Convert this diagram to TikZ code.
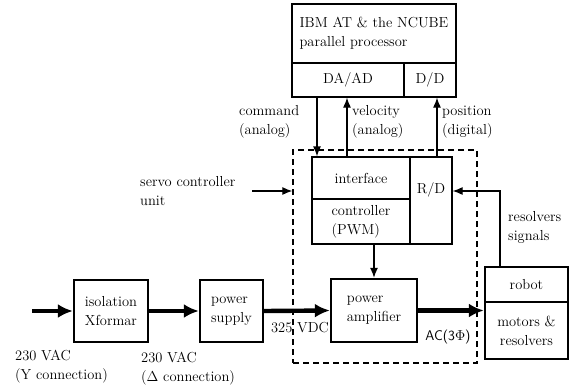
\documentclass[tikz,border=0pt]{standalone}
\usepackage{tikz}
\usetikzlibrary{arrows.meta}

\begin{document}
\begin{tikzpicture}[
    x=1pt, y=-1pt,
    >={Latex[length=10pt,width=8pt]},
    every node/.style={font=\fontsize{14.5}{19}\selectfont, inner sep=0pt},
    cel/.style 2 args={draw, line width=1.2pt, minimum width=#1, minimum height=#2},
    blok/.style 2 args={draw, line width=2.4pt, minimum width=#1, minimum height=#2},
    conn/.style={line width=1.2pt},
    pwr/.style={line width=4.4pt, -{Latex[length=15pt,width=14pt]}},
    dash box/.style={draw, line width=1.3pt, dash pattern=on 6pt off 4pt}
    ]
    
    \useasboundingbox (0,0) rectangle (571,389);
    
    % host computer
    \node[cel={164pt}{59pt}, align=left] (host) at (374,33.5)
    {IBM AT \& the NCUBE\\parallel processor};
    \node[cel={112pt}{34pt}] (dad) at (348,80) {DA/AD};
    \node[cel={52pt}{34pt}] (dd) at (430,80) {D/D};
    \node[blok={164pt}{93pt}] (ibm) at (374,50.5) {};
    
    % servo controller unit
    \node[dash box, minimum width=184pt, minimum height=213pt] (scu) at (385,256.5) {};
    \node[cel={98pt}{42pt}] (intf) at (361,178) {interface};
    \node[cel={98pt}{45pt}, align=left] (ctrl) at (361,221.5)
    {controller\\(PWM)};
    \node[cel={42pt}{87pt}] (rd) at (431,200.5) {};
    \node (rdlab) at (431,190) {R/D};
    \node[blok={140pt}{87pt}] (iface) at (382,200.5) {};
    
    \node[blok={86pt}{63pt}, align=left] (amp) at (374,310.5)
    {power\\amplifier};
    
    % power chain
    \node[blok={74pt}{62pt}, align=left] (iso) at (111,311)
    {isolation\\Xformar};
    \node[blok={63pt}{62pt}, align=left] (psu) at (231.5,311)
    {power\\supply};
    
    % robot
    \node[cel={83pt}{35pt}] (rbt) at (526.5,284.5) {robot};
    \node[cel={83pt}{57pt}, align=center] (mot) at (526.5,330.5) {motors \&\\resolvers};
    \node[blok={83pt}{92pt}] (robot) at (526.5,313) {};
    
    % sinais
    \coordinate (cmd) at (317,0);
    \coordinate (vel) at (347,0);
    \coordinate (pos) at (437,0);
    \coordinate (srv) at (252,191);
    \coordinate (rs) at (500,191);
    \coordinate (ac) at (32,311);
    
    \draw[conn,->] (dad.south -| cmd) -- (intf.north -| cmd);
    \draw[conn,->] (intf.north -| vel) -- (dad.south -| vel);
    \draw[conn,->] (rd.north -| pos) -- (dd.south -| pos);
    \draw[conn,->] (srv) -- (scu.west |- srv);
    \draw[conn,->] (robot.north -| rs) -- (rs) -- (rd.east |- rs);
    \draw[conn,->] (ctrl.south -| amp.north) -- (amp.north);
    
    \draw[pwr] (ac) -- (iso.west);
    \draw[pwr] (iso.east) -- (psu.west);
    \draw[pwr] (psu.east) -- (amp.west);
    \draw[pwr] (amp.east) -- (amp.east -| robot.west);
    
    % labels
    \node[anchor=west, align=left] (lcmd) at (239,122)
    {command\\(analog)};
    \node[anchor=west, align=left] (lvel) at (352,122)
    {velocity\\(analog)};
    \node[anchor=west, align=left] (lpos) at (442,122)
    {position\\(digital)};
    \node[anchor=west, align=left] (lsrv) at (140,191)
    {servo controller\\unit};
    \node[anchor=west, align=left] (lres) at (508,227)
    {resolvers\\signals};
    \node (lvdc) at (300,328) {325 VDC};
    \node[font=\fontsize{14}{19}\sffamily] (lac) at (448,337) {AC(3$\Phi$)};
    \node[anchor=west, align=left] (lin) at (15,367)
    {230 VAC\\(Y connection)};
    \node[anchor=west, align=left] (lout) at (141,369)
    {230 VAC\\($\Delta$ connection)};
    
\end{tikzpicture}
\end{document}
